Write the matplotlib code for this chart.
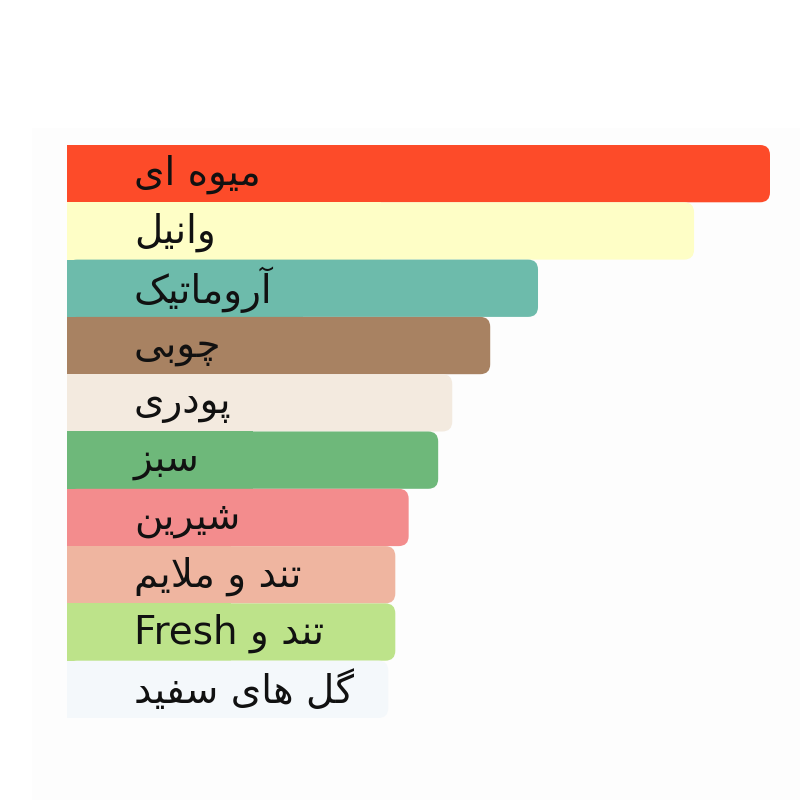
import matplotlib
matplotlib.use('Agg')
import matplotlib.pyplot as plt
from matplotlib.patches import FancyBboxPatch, Rectangle

labels = ['میوه ای', 'وانیل', 'آروماتیک', 'چوبی', 'پودری', 'سبز',
          'شیرین', 'تند و ملایم', 'تند و Fresh', 'گل های سفید']
values = [100, 89.2, 67.0, 60.2, 54.8, 52.8, 48.6, 46.7, 46.7, 45.7]
colors = ['#fd4b29', '#fefec6', '#6dbbab', '#a88262', '#f3eadf',
          '#6eb87a', '#f38c8d', '#efb5a0', '#bde38a', '#f4f8fb']

# (isolated, final, initial, medial); None = does not join the next letter
FORMS = {
    'ا': ('\uFE8D', '\uFE8E', None, None),
    'آ': ('\uFE81', '\uFE82', None, None),
    'ب': ('\uFE8F', '\uFE90', '\uFE91', '\uFE92'),
    'پ': ('\uFB56', '\uFB57', '\uFB58', '\uFB59'),
    'ت': ('\uFE95', '\uFE96', '\uFE97', '\uFE98'),
    'چ': ('\uFB7A', '\uFB7B', '\uFB7C', '\uFB7D'),
    'د': ('\uFEA9', '\uFEAA', None, None),
    'ر': ('\uFEAD', '\uFEAE', None, None),
    'ز': ('\uFEAF', '\uFEB0', None, None),
    'س': ('\uFEB1', '\uFEB2', '\uFEB3', '\uFEB4'),
    'ش': ('\uFEB5', '\uFEB6', '\uFEB7', '\uFEB8'),
    'ف': ('\uFED1', '\uFED2', '\uFED3', '\uFED4'),
    'ک': ('\uFB8E', '\uFB8F', '\uFB90', '\uFB91'),
    'گ': ('\uFB92', '\uFB93', '\uFB94', '\uFB95'),
    'ل': ('\uFEDD', '\uFEDE', '\uFEDF', '\uFEE0'),
    'م': ('\uFEE1', '\uFEE2', '\uFEE3', '\uFEE4'),
    'ن': ('\uFEE5', '\uFEE6', '\uFEE7', '\uFEE8'),
    'و': ('\uFEED', '\uFEEE', None, None),
    'ه': ('\uFEE9', '\uFEEA', '\uFEEB', '\uFEEC'),
    'ی': ('\uFBFC', '\uFBFD', '\uFBFE', '\uFBFF'),
}
LAM_ALEF = {'ا': ('\uFEFB', '\uFEFC', None, None),
            'آ': ('\uFEF5', '\uFEF6', None, None)}


def shape_word(word):
    ''' join letters of one persian word, return it in visual order '''
    toks = []
    i = 0
    while i < len(word):
        ch = word[i]
        if ch == 'ل' and i + 1 < len(word) and word[i + 1] in LAM_ALEF:
            toks.append(LAM_ALEF[word[i + 1]])
            i += 2
            continue
        toks.append(FORMS.get(ch, (ch, ch, None, None)))
        i += 1
    out = []
    for k, f in enumerate(toks):
        prev_joins = k > 0 and toks[k - 1][2] is not None
        next_joins = f[2] is not None and k + 1 < len(toks)
        if prev_joins and next_joins:
            out.append(f[3])
        elif prev_joins:
            out.append(f[1])
        elif next_joins:
            out.append(f[2])
        else:
            out.append(f[0])
    return ''.join(reversed(out))


def visual(text):
    ''' right-to-left label -> left-to-right glyph string '''
    words = []
    for w in text.split(' '):
        if any(c in FORMS for c in w):
            words.append(shape_word(w))
        else:
            words.append(w)
    return ' '.join(reversed(words))


fig = plt.figure(figsize=(8, 8), dpi=100)
fig.patches.append(Rectangle((32 / 800, 0), 1, 1 - 128 / 800,
                             transform=fig.transFigure,
                             facecolor='#fdfdfd', edgecolor='none',
                             zorder=-1))

ax = fig.add_axes([67 / 800, 82 / 800, 703 / 800, 573 / 800])
ax.set_xlim(0, 100)
ax.set_ylim(len(values) - 0.5, -0.5)
ax.axis('off')

# data units per pixel, for circular corners
aspect = (1 / 57.3) / (100 / 703)
radius = 10 * 100 / 703

for i, (v, c) in enumerate(zip(values, colors)):
    ax.add_patch(FancyBboxPatch(
        (0, i - 0.5), v, 1,
        boxstyle=f'round,pad=0,rounding_size={radius}',
        mutation_aspect=aspect, facecolor=c, edgecolor='none',
        linewidth=0))
    ax.barh(i, v / 2, height=1, left=0, color=c, linewidth=0)
    ax.text(9.5, i + 0.02, visual(labels[i]), ha='left', va='center',
            fontsize=28, color='#111111', family='DejaVu Sans')

fig.savefig('out.png', dpi=100, facecolor='white')
